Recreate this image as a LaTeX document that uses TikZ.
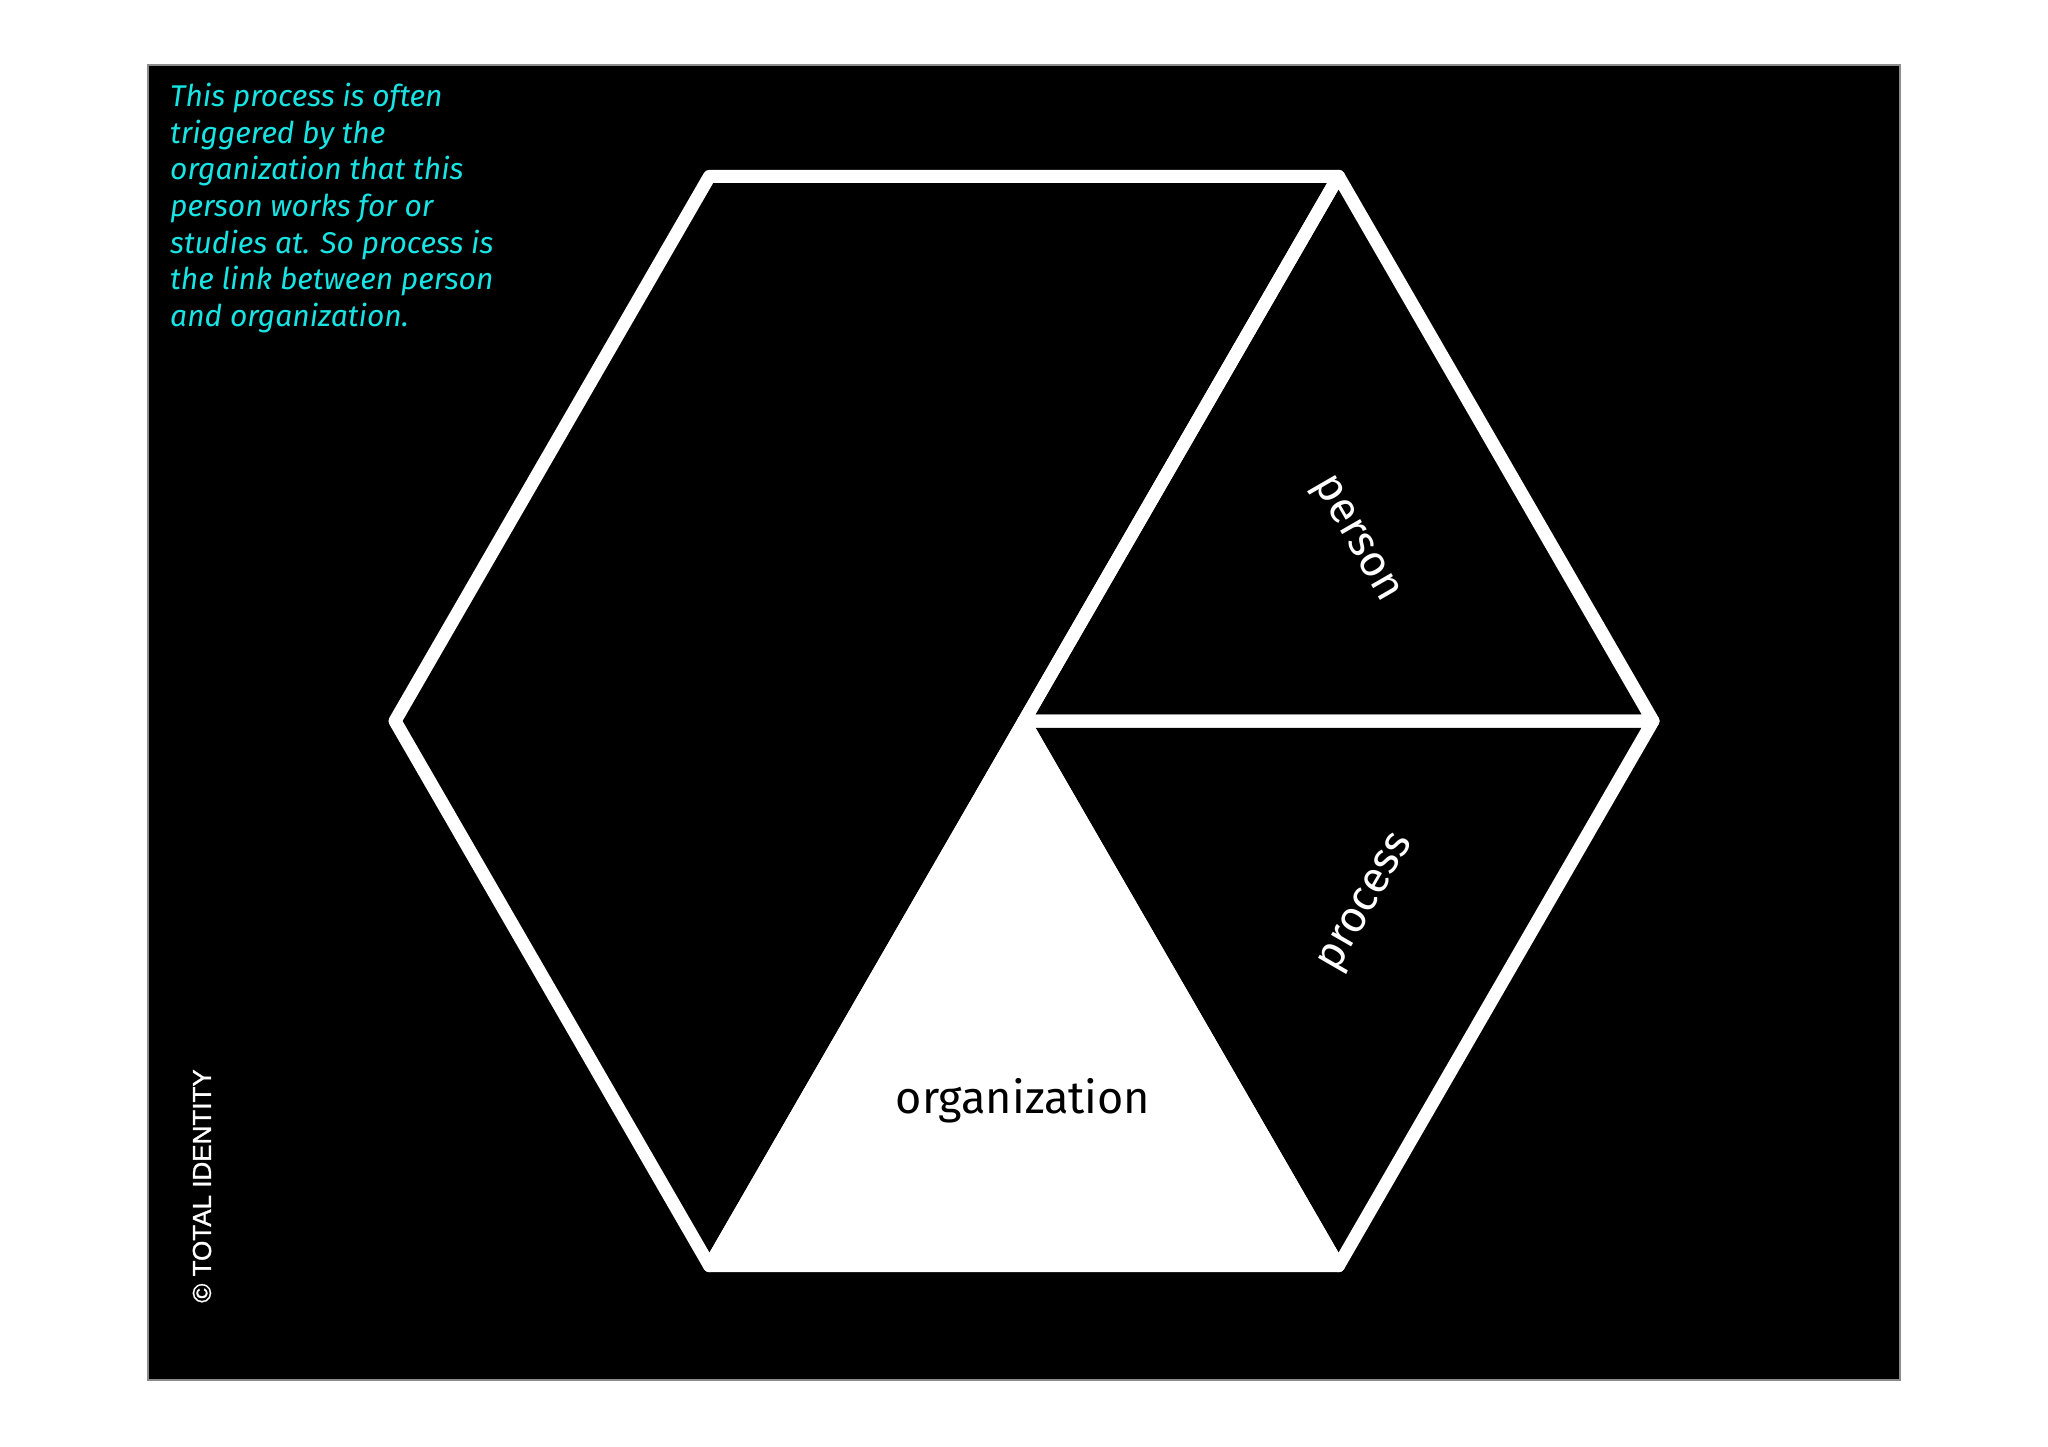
\documentclass[tikz,border=0pt]{standalone}
\usepackage{fontspec}
\newfontfamily\fira{Fira Sans}
\newfontfamily\heros[FakeBold=1.2]{Liberation Sans}
\definecolor{notecyan}{RGB}{24,228,228}
\definecolor{framegray}{RGB}{140,140,140}
\begin{document}
\begin{tikzpicture}[x=1pt,y=-1pt,
  edge/.style={draw=white,line width=13pt,line join=round,line cap=round},
  note/.style={font=\fira\itshape\fontsize{30}{36.6}\selectfont,text=notecyan,align=left,inner sep=0pt,anchor=north west},
  seglabel/.style={font=\fira\fontsize{44}{50}\selectfont,text=white,inner sep=0pt},
  orglabel/.style={font=\fira\fontsize{45}{52}\selectfont,text=black,inner sep=0pt,anchor=base},
  credit/.style={font=\heros\fontsize{26}{30}\selectfont,text=white,inner sep=0pt,rotate=90}]
\useasboundingbox (0,0) rectangle (2048,1447);
\fill[white] (0,0) rectangle (2048,1447);
\draw[framegray,line width=1.5pt,fill=black] (148,65) rectangle (1900,1380);
% hexagon vertices
\coordinate (TL) at (709.5,176.3);
\coordinate (TR) at (1338.5,176.3);
\coordinate (R)  at (1653,721);
\coordinate (BR) at (1338.5,1265.7);
\coordinate (BL) at (709.5,1265.7);
\coordinate (L)  at (395,721);
\coordinate (C)  at (1024,721);
% shapes
\path[edge] (TL) -- (TR) -- (C) -- (BL) -- (L) -- cycle;
\path[edge] (TR) -- (R) -- (C) -- cycle;
\path[edge] (C) -- (R) -- (BR) -- cycle;
\path[edge,fill=white] (C) -- (BR) -- (BL) -- cycle;
% labels
\node[seglabel,rotate=-60] (person) at (1354,540) {person};
\node[seglabel,rotate=60] (process) at (1368,904) {process};
\node[orglabel] (org) at (1023,1113) {organization};
\node[note] (note) at (170,83) {This process is often\\triggered by the\\organization that this\\person works for or\\studies at. So process is\\the link between person\\and organization.};
\node[credit] (credit) at (202,1186) {\textcopyright{} TOTAL IDENTITY};
\end{tikzpicture}
\end{document}
